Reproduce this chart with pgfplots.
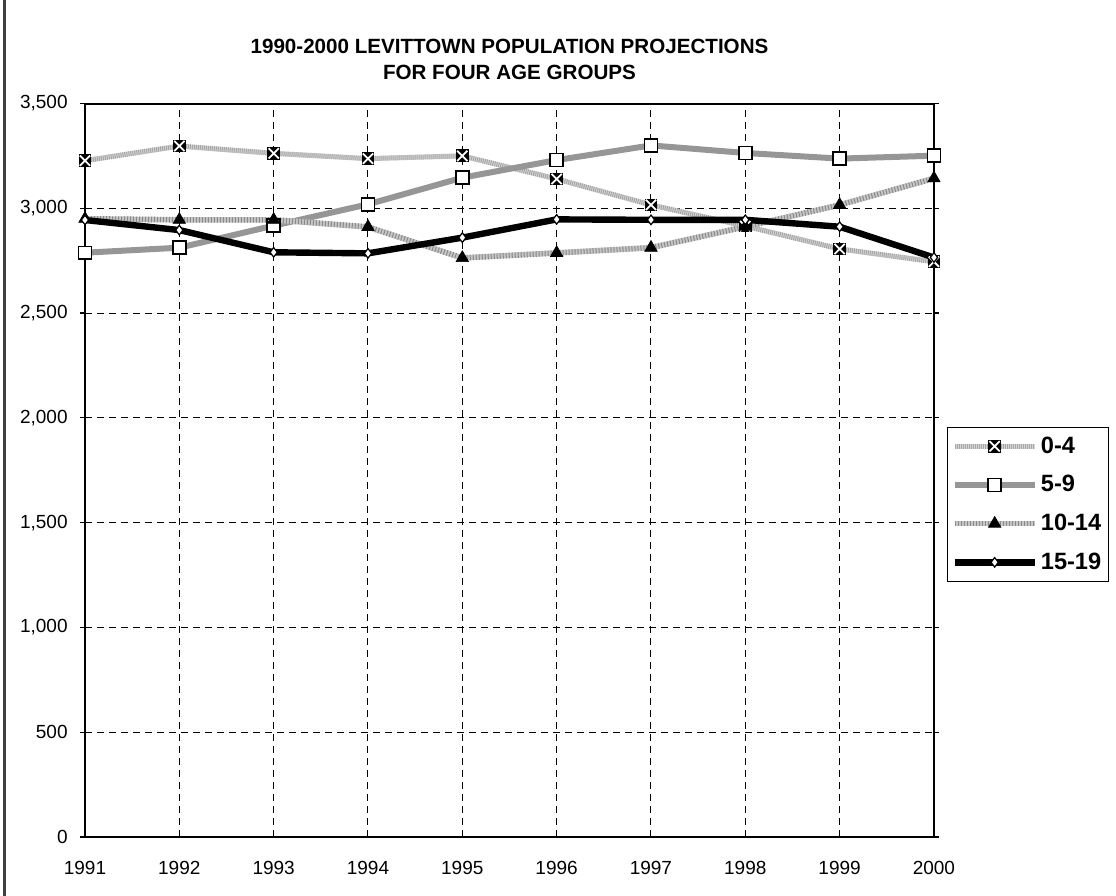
\documentclass[border=0pt]{standalone}
\usepackage{fontspec}
\setmainfont{Liberation Sans}
\usepackage{pgfplots}
\usepackage{pgfplotstable}
\pgfplotsset{compat=1.18}

\definecolor{ageA}{HTML}{D6D6D6}
\definecolor{ageAhatch}{HTML}{A6A6A6}
\definecolor{ageB}{HTML}{969696}
\definecolor{ageC}{HTML}{C6C6C6}
\definecolor{ageChatch}{HTML}{8A8A8A}
\definecolor{framegray}{HTML}{404040}

% black square crossed by a white X
\pgfdeclareplotmark{boxx}{%
  \pgfpathrectangle{\pgfpoint{-\pgfplotmarksize}{-\pgfplotmarksize}}%
    {\pgfpoint{2\pgfplotmarksize}{2\pgfplotmarksize}}%
  \pgfsetfillcolor{black}\pgfusepathqfill
  \pgfsetstrokecolor{white}\pgfsetlinewidth{0.9pt}%
  \pgfpathmoveto{\pgfpoint{-0.8\pgfplotmarksize}{-0.8\pgfplotmarksize}}%
  \pgfpathlineto{\pgfpoint{0.8\pgfplotmarksize}{0.8\pgfplotmarksize}}%
  \pgfpathmoveto{\pgfpoint{-0.8\pgfplotmarksize}{0.8\pgfplotmarksize}}%
  \pgfpathlineto{\pgfpoint{0.8\pgfplotmarksize}{-0.8\pgfplotmarksize}}%
  \pgfusepathqstroke
}

% projected population by age group
\pgfplotstableread{
year  a04   a59   a1014 a1519
1991  3227  2788  2950  2944
1992  3297  2812  2945  2896
1993  3262  2917  2945  2790
1994  3237  3019  2911  2785
1995  3250  3146  2763  2860
1996  3140  3230  2787  2947
1997  3016  3300  2812  2945
1998  2915  3264  2912  2945
1999  2806  3237  3016  2912
2000  2745  3251  3143  2765
}\popdata

\begin{document}
\begin{tikzpicture}
\path[use as bounding box] (0,0) rectangle (558pt,448pt);
\draw[framegray, line width=1.4pt] (2.3pt,0) -- (2.3pt,448pt);

\node[font=\bfseries\fontsize{10.3}{12}\selectfont, anchor=base] at (254.75pt,421pt)
  {1990-2000 LEVITTOWN POPULATION PROJECTIONS};
\node[font=\bfseries\fontsize{10.3}{12}\selectfont, anchor=base] at (254.75pt,408pt)
  {FOR FOUR AGE GROUPS};

\begin{axis}[
  at={(42.5pt,29.5pt)}, anchor=south west,
  scale only axis, width=424.5pt, height=366.75pt,
  xmin=1991, xmax=2000, ymin=0, ymax=3500,
  xtick={1991,...,2000}, ytick={0,500,...,3500},
  grid=major,
  major grid style={black, line width=0.5pt, dash pattern=on 3.5pt off 2.5pt},
  axis line style={black, line width=1pt},
  tick align=outside, major tick length=2.5pt,
  ytick style={black, line width=0.6pt},
  xtick style={draw=none},
  /pgf/number format/assume math mode=true,
  ticklabel style={font=\fontsize{9.5}{11}\selectfont},
  yticklabel style={/pgf/number format/1000 sep={,}, inner sep=0pt, xshift=-6pt},
  xticklabel style={/pgf/number format/1000 sep={}, inner sep=0pt, yshift=-9.5pt},
  clip=false,
  legend style={at={(1.0153,0.5589)}, anchor=north west, draw=black,
    line width=0.5pt, font=\bfseries\fontsize{11.8}{13}\selectfont,
    row sep=5.6pt, inner xsep=2pt, inner ysep=2.5pt,
    nodes={inner xsep=1.5pt},
    cells={anchor=west}},
  legend cell align=left,
  legend image code/.code={%
    \draw[mark repeat=2, mark phase=2, #1]
      plot coordinates {(0pt,0pt) (20pt,0pt) (40pt,0pt)};},
]
\addplot[ageA, line width=2.5pt,
  postaction={draw=ageAhatch, line width=2.5pt, dash pattern=on 0.5pt off 0.5pt},
  mark=boxx, mark size=3.2pt, mark options={solid}]
  table[x=year, y=a04] {\popdata};
\addlegendentry{0-4}
\addplot[ageB, line width=3pt, mark=square*, mark size=3.2pt,
  mark options={fill=white, draw=black, line width=0.8pt}]
  table[x=year, y=a59] {\popdata};
\addlegendentry{5-9}
\addplot[ageC, line width=2.8pt,
  postaction={draw=ageChatch, line width=2.8pt, dash pattern=on 0.5pt off 1pt},
  mark=triangle*, mark size=3.6pt,
  mark options={solid, fill=black, draw=black, line width=0.3pt}]
  table[x=year, y=a1014] {\popdata};
\addlegendentry{10-14}
\addplot[black, line width=3.2pt, mark=diamond*, mark size=2.4pt,
  mark options={fill=white, draw=black, line width=0.6pt}]
  table[x=year, y=a1519] {\popdata};
\addlegendentry{15-19}
\end{axis}
\end{tikzpicture}
\end{document}
